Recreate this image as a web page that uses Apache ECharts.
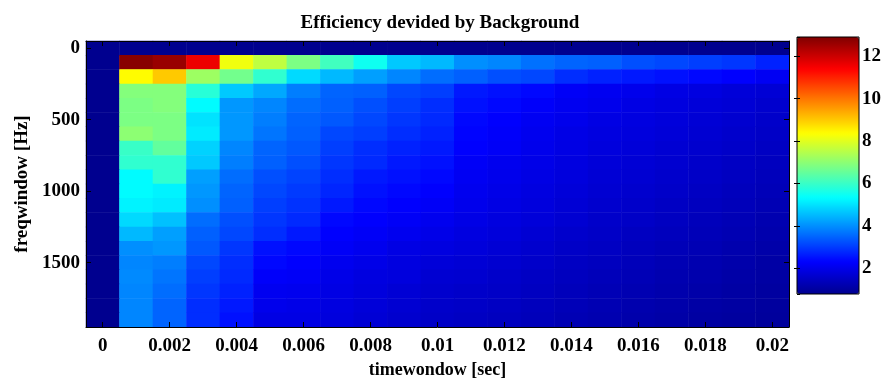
<!DOCTYPE html>
<html>
<head>
<meta charset="utf-8">
<title>Efficiency devided by Background</title>
<script src="https://cdn.jsdelivr.net/npm/echarts@6/dist/echarts.min.js"></script>
<style>
  html, body { margin: 0; padding: 0; background: #fff; }
  #chart { width: 884px; height: 378px; }
</style>
</head>
<body>
<div id="chart"></div>
<script>
// time windows (x) and frequency windows (y)
const timeWindows = ['0', '0.001', '0.002', '0.003', '0.004', '0.005', '0.006', '0.007', '0.008', '0.009', '0.01',
    '0.011', '0.012', '0.013', '0.014', '0.015', '0.016', '0.017', '0.018', '0.019', '0.02'];
const freqWindows = ['0', '100', '200', '300', '400', '500', '600', '700', '800', '900', '1000',
    '1100', '1200', '1300', '1400', '1500', '1600', '1700', '1800', '1900'];

// efficiency / background, one row per freq window, one value per time window
const ratioRows = [
    [0.8, 0.8, 0.8, 0.8, 0.8, 0.8, 0.8, 0.8, 0.8, 0.8, 0.8, 0.8, 0.8, 0.8, 0.8, 0.8, 0.8, 0.8, 0.8, 0.8, 0.8],
    [0.8, 12.8, 12.6, 11.6, 8.2, 7.6, 6.8, 6.1, 5.5, 4.7, 4.5, 4.0, 3.9, 3.65, 3.5, 3.45, 3.25, 3.15, 3.05, 2.95, 2.7],
    [0.8, 8.4, 9.0, 7.2, 6.7, 5.9, 4.9, 4.5, 4.2, 3.9, 3.6, 3.45, 3.25, 3.15, 2.85, 2.7, 2.6, 2.5, 2.4, 2.3, 2.15],
    [0.8, 6.9, 6.9, 5.8, 4.7, 4.3, 3.8, 3.5, 3.45, 3.15, 3.05, 2.6, 2.5, 2.4, 2.2, 2.13, 2.05, 1.95, 1.9, 1.8, 1.75],
    [0.8, 6.8, 6.9, 5.3, 4.1, 3.9, 3.6, 3.45, 3.25, 3.05, 2.85, 2.5, 2.4, 2.25, 2.13, 2.05, 1.95, 1.88, 1.8, 1.75, 1.65],
    [0.8, 6.8, 6.8, 5.0, 4.1, 3.8, 3.5, 3.35, 3.15, 2.95, 2.8, 2.4, 2.3, 2.15, 2.05, 1.95, 1.9, 1.82, 1.75, 1.68, 1.6],
    [0.8, 7.0, 6.8, 5.1, 4.1, 3.7, 3.45, 3.15, 3.05, 2.85, 2.7, 2.35, 2.25, 2.1, 1.98, 1.9, 1.85, 1.78, 1.7, 1.62, 1.55],
    [0.8, 6.0, 6.5, 4.8, 3.9, 3.5, 3.35, 3.05, 2.85, 2.7, 2.6, 2.3, 2.2, 2.05, 1.95, 1.85, 1.8, 1.72, 1.65, 1.58, 1.5],
    [0.8, 5.9, 5.9, 4.7, 3.8, 3.45, 3.25, 2.95, 2.8, 2.6, 2.5, 2.2, 2.1, 2.0, 1.9, 1.8, 1.75, 1.68, 1.6, 1.52, 1.45],
    [0.8, 5.3, 5.9, 4.2, 3.6, 3.25, 3.1, 2.85, 2.6, 2.5, 2.4, 2.15, 2.05, 1.95, 1.85, 1.75, 1.7, 1.62, 1.55, 1.48, 1.4],
    [0.8, 5.3, 5.2, 4.1, 3.5, 3.15, 3.0, 2.75, 2.5, 2.4, 2.3, 2.1, 2.0, 1.9, 1.8, 1.7, 1.65, 1.58, 1.5, 1.42, 1.35],
    [0.8, 5.2, 5.1, 4.0, 3.45, 3.05, 2.9, 2.6, 2.4, 2.3, 2.2, 2.05, 1.95, 1.85, 1.75, 1.65, 1.6, 1.52, 1.45, 1.38, 1.3],
    [0.8, 4.9, 4.6, 3.6, 3.25, 2.95, 2.8, 2.4, 2.3, 2.2, 2.1, 1.98, 1.88, 1.8, 1.7, 1.6, 1.55, 1.48, 1.4, 1.32, 1.25],
    [0.8, 4.5, 4.2, 3.45, 3.15, 2.85, 2.6, 2.3, 2.2, 2.1, 2.0, 1.9, 1.82, 1.72, 1.62, 1.55, 1.48, 1.42, 1.35, 1.28, 1.2],
    [0.8, 4.0, 4.1, 3.35, 2.95, 2.5, 2.4, 2.2, 2.1, 1.95, 1.9, 1.82, 1.75, 1.65, 1.55, 1.5, 1.42, 1.36, 1.3, 1.22, 1.15],
    [0.8, 3.9, 3.8, 3.15, 2.85, 2.4, 2.3, 2.1, 2.0, 1.9, 1.8, 1.75, 1.68, 1.6, 1.5, 1.45, 1.38, 1.3, 1.25, 1.18, 1.1],
    [0.8, 3.95, 3.7, 3.05, 2.8, 2.25, 2.2, 2.0, 1.9, 1.85, 1.7, 1.68, 1.6, 1.52, 1.45, 1.38, 1.32, 1.25, 1.2, 1.12, 1.07],
    [0.8, 3.9, 3.6, 2.95, 2.7, 2.13, 2.1, 1.95, 1.85, 1.75, 1.65, 1.6, 1.55, 1.48, 1.4, 1.33, 1.27, 1.2, 1.15, 1.08, 1.03],
    [0.8, 3.9, 3.5, 2.85, 2.6, 2.05, 2.0, 1.9, 1.8, 1.7, 1.6, 1.55, 1.5, 1.42, 1.35, 1.28, 1.22, 1.16, 1.1, 1.05, 1.0],
    [0.8, 3.9, 3.5, 2.85, 2.5, 1.95, 1.95, 1.85, 1.75, 1.65, 1.55, 1.5, 1.45, 1.38, 1.3, 1.24, 1.18, 1.12, 1.06, 1.02, 0.98]
];

const colorMin = 0.8;
const colorMax = 12.9;
const jet = ['#00008f', '#0000ff', '#0080ff', '#00ffff', '#80ff80', '#ffff00', '#ff8000', '#ff0000', '#800000'];

const heatData = [];
ratioRows.forEach(function (row, yi) {
    row.forEach(function (v, xi) {
        heatData.push([xi, yi, v]);
    });
});

const font = "'Liberation Serif', 'Times New Roman', serif";
const black = '#000';

function frameTick(len) {
    return { show: true, inside: true, length: len, lineStyle: { color: black, width: 1 } };
}

const chart = echarts.init(document.getElementById('chart'));

chart.setOption({
    animation: false,
    title: {
        text: 'Efficiency devided by Background',
        left: 435,
        textAlign: 'center',
        top: 9,
        textStyle: { fontFamily: font, fontSize: 19, fontWeight: 'bold', color: black }
    },
    grid: [
        { left: 86, right: 95, top: 41, bottom: 51, outerBoundsMode: 'none', containLabel: false },
        { left: 797, top: 37, width: 62, height: 257, show: true, z: 5, outerBoundsMode: 'none',
          borderColor: black, borderWidth: 1, backgroundColor: 'transparent' }
    ],
    xAxis: [
        {
            type: 'category',
            gridIndex: 0,
            position: 'bottom',
            data: timeWindows,
            z: 10,
            axisLine: { lineStyle: { color: black } },
            axisTick: Object.assign(frameTick(5), { alignWithLabel: true, interval: 1 }),
            axisLabel: { interval: 1, margin: 10, fontFamily: font, fontSize: 19, fontWeight: 'bold', color: black },
            splitLine: { show: false },
            name: 'timewondow [sec]',
            nameLocation: 'middle',
            nameGap: 29,
            nameTextStyle: { fontFamily: font, fontSize: 18, fontWeight: 'bold', color: black }
        },
        {
            type: 'category',
            gridIndex: 0,
            position: 'top',
            data: timeWindows,
            z: 10,
            axisLine: { lineStyle: { color: black } },
            axisTick: Object.assign(frameTick(5), { alignWithLabel: true, interval: 1 }),
            axisLabel: { show: false, interval: 1 }
        },
        { type: 'value', gridIndex: 1, show: false }
    ],
    yAxis: [
        {
            type: 'category',
            gridIndex: 0,
            position: 'left',
            inverse: true,
            data: freqWindows,
            z: 10,
            axisLine: { lineStyle: { color: black } },
            axisTick: Object.assign(frameTick(5), { alignWithLabel: true, interval: 4 }),
            axisLabel: { interval: 4, margin: 6, fontFamily: font, fontSize: 19, fontWeight: 'bold', color: black },
            name: 'freqwindow [Hz]',
            nameLocation: 'middle',
            nameGap: 54,
            nameTextStyle: { fontFamily: font, fontSize: 19, fontWeight: 'bold', color: black }
        },
        {
            type: 'category',
            gridIndex: 0,
            position: 'right',
            inverse: true,
            data: freqWindows,
            z: 10,
            axisLine: { lineStyle: { color: black } },
            axisTick: Object.assign(frameTick(5), { alignWithLabel: true, interval: 4 }),
            axisLabel: { show: false, interval: 4 }
        },
        {
            type: 'value',
            gridIndex: 1,
            position: 'right',
            min: colorMin,
            max: colorMax,
            splitNumber: 6,
            z: 10,
            axisLine: { show: false },
            axisTick: frameTick(3),
            splitLine: { show: false },
            axisLabel: { margin: 3, showMinLabel: false, showMaxLabel: false,
                         fontFamily: font, fontSize: 19, fontWeight: 'bold', color: black }
        },
        {
            type: 'value',
            gridIndex: 1,
            position: 'left',
            min: colorMin,
            max: colorMax,
            splitNumber: 6,
            z: 10,
            axisLine: { show: false },
            axisTick: frameTick(3),
            splitLine: { show: false },
            axisLabel: { show: false }
        }
    ],
    visualMap: {
        type: 'continuous',
        seriesIndex: 0,
        min: colorMin,
        max: colorMax,
        calculable: false,
        left: 797,
        top: 37,
        itemWidth: 62,
        itemHeight: 257,
        padding: 0,
        text: null,
        inRange: { color: jet }
    },
    series: [
        {
            type: 'heatmap',
            xAxisIndex: 0,
            yAxisIndex: 0,
            data: heatData,
            emphasis: { disabled: true }
        }
    ]
});
</script>
</body>
</html>
